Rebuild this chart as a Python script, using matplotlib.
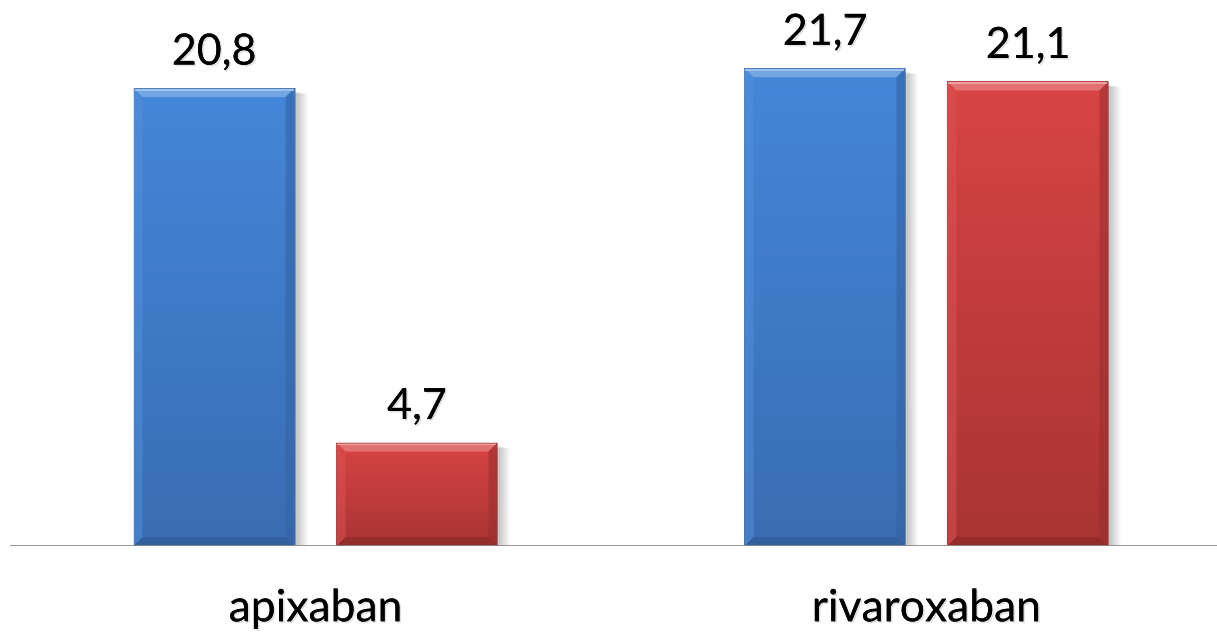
import numpy as np
import matplotlib
matplotlib.use("Agg")
import matplotlib.pyplot as plt
import matplotlib.patheffects as pe
from matplotlib.patches import Polygon, Rectangle
from matplotlib.colors import to_rgb

categories = ["apixaban", "rivaroxaban"]
series_a = [20.8, 21.7]
series_b = [4.7, 21.1]
value_labels_a = ["20,8", "21,7"]
value_labels_b = ["4,7", "21,1"]

BLUE_TOP, BLUE_BOT = "#4487d8", "#3a6db3"
RED_TOP, RED_BOT = "#d94444", "#a93434"

plt.rcParams["font.family"] = ["Lato", "DejaVu Sans"]

W, H = 1217, 634
fig = plt.figure(figsize=(W / 100, H / 100), dpi=100)
ax = fig.add_axes([10 / W, 88 / H, (W - 10) / W, 546 / H])
ax.set_xlim(-0.5, 1.4755)
ax.set_ylim(0, 24.8)
ax.axis("off")

x = np.arange(len(categories))
width = 0.2635
off = 0.1661

# pixel -> data scale factors
px_x = (1.4755 + 0.5) / (W - 10)
px_y = 24.8 / 546


def shade(c, f):
    r = np.array(to_rgb(c))
    if f >= 0:
        return tuple(r + (1 - r) * f)
    return tuple(r * (1 + f))


def fancy_bar(rect, top, bot):
    x0, y0 = rect.get_x(), rect.get_y()
    w, h = rect.get_width(), rect.get_height()
    x1, y1 = x0 + w, y0 + h
    # soft shadow on the right / below
    for i in range(1, 12):
        ax.add_patch(Rectangle((x0 + 2 * px_x, y0 - i * 0.25 * px_y), w + i * px_x, h - 3 * px_y,
                               facecolor="black", alpha=0.018, lw=0, zorder=1))
    # vertical gradient face (light at the top, darker at the base)
    t, b = np.array(to_rgb(top)), np.array(to_rgb(bot))
    n = 256
    frac = np.linspace(0, 1, n)[:, None]
    grad = (t * (1 - frac) + b * frac)[:, None, :]
    im = ax.imshow(grad, extent=(x0, x1, y0, y1), origin="upper", aspect="auto",
                   zorder=2, interpolation="bilinear")
    im.set_clip_path(rect)
    rect.set_facecolor("none")
    rect.set_zorder(3)
    # bevel edges
    bx, by = 9 * px_x, 9 * px_y
    bevels = [
        ([(x0, y1), (x1, y1), (x1 - bx, y1 - by), (x0 + bx, y1 - by)], shade(top, 0.28), 0.9),
        ([(x0, y0), (x0, y1), (x0 + bx, y1 - by), (x0 + bx, y0 + by)], shade(top, 0.08), 0.5),
        ([(x1, y0), (x1, y1), (x1 - bx, y1 - by), (x1 - bx, y0 + by)], shade(bot, -0.10), 0.55),
        ([(x0, y0), (x1, y0), (x1 - bx, y0 + by), (x0 + bx, y0 + by)], shade(bot, -0.15), 0.8),
    ]
    for pts, col, a in bevels:
        ax.add_patch(Polygon(pts, closed=True, facecolor=col, alpha=a, lw=0, zorder=4))
    # thin highlight along the top edge
    ax.plot([x0 + px_x, x1 - px_x], [y1 - 1.5 * px_y, y1 - 1.5 * px_y],
            color=shade(top, 0.55), lw=1.2, zorder=5, solid_capstyle="butt")
    ax.plot([x0, x1, x1], [y1, y1, y0], color=shade(bot, -0.25), lw=0.6, alpha=0.5, zorder=5)


bars_a = ax.bar(x - off, series_a, width, zorder=3)
bars_b = ax.bar(x + off, series_b, width, zorder=3)
for r in bars_a:
    fancy_bar(r, BLUE_TOP, BLUE_BOT)
for r in bars_b:
    fancy_bar(r, RED_TOP, RED_BOT)

ax.axhline(0, color="#8c8c8c", lw=2, zorder=6)

shadow = [pe.withSimplePatchShadow(offset=(1.2, -1.2), alpha=0.12, shadow_rgbFace="black"), pe.Normal()]

for xs, vals, labs in ((x - off, series_a, value_labels_a), (x + off, series_b, value_labels_b)):
    for xi, v, lab in zip(xs, vals, labs):
        ax.text(xi, v + 0.75, lab, ha="center", va="bottom", fontsize=31,
                color="black", path_effects=shadow, zorder=7)

for xi, cat in zip(x, categories):
    ax.text(xi, -2.85, cat, ha="center", va="center", fontsize=32,
            color="black", path_effects=shadow, clip_on=False)

fig.savefig("out.png", dpi=100, facecolor="white")
